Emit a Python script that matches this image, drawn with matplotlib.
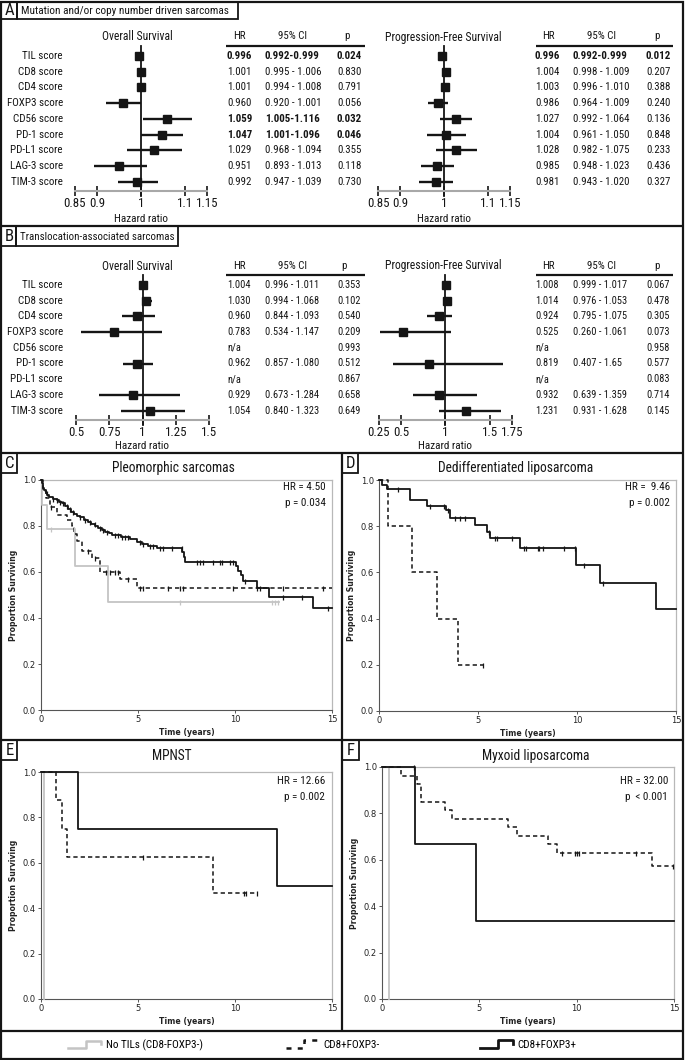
import numpy as np
import matplotlib
matplotlib.use('Agg')
import matplotlib.pyplot as plt
from matplotlib import font_manager as fm
from matplotlib.lines import Line2D
from matplotlib.patches import Rectangle
from matplotlib.legend_handler import HandlerLine2D


def has_font(name):
    try:
        fm.findfont(fm.FontProperties(family=name), fallback_to_default=False)
        return True
    except Exception:
        return False


FONT_CHOICES = [('Liberation Sans Narrow', 1.0), ('Roboto Condensed', 0.93),
                ('Lato', 0.88), ('Liberation Sans', 0.82)]
NARROW_NAME, SF = 'DejaVu Sans', 0.75
for _name, _sf in FONT_CHOICES:
    if has_font(_name):
        NARROW_NAME, SF = _name, _sf
        break
NARROW = [NARROW_NAME, 'DejaVu Sans']

# ---------------- data ----------------
markers = ['TIL score', 'CD8 score', 'CD4 score', 'FOXP3 score', 'CD56 score',
           'PD-1 score', 'PD-L1 score', 'LAG-3 score', 'TIM-3 score']

a_os_hr = ['0.996', '1.001', '1.001', '0.960', '1.059', '1.047', '1.029', '0.951', '0.992']
a_os_lo = ['0.992', '0.995', '0.994', '0.920', '1.005', '1.001', '0.968', '0.893', '0.947']
a_os_hi = ['0.999', '1.006', '1.008', '1.001', '1.116', '1.096', '1.094', '1.013', '1.039']
a_os_p = ['0.024', '0.830', '0.791', '0.056', '0.032', '0.046', '0.355', '0.118', '0.730']

a_pfs_hr = ['0.996', '1.004', '1.003', '0.986', '1.027', '1.004', '1.028', '0.985', '0.981']
a_pfs_lo = ['0.992', '0.998', '0.996', '0.964', '0.992', '0.961', '0.982', '0.948', '0.943']
a_pfs_hi = ['0.999', '1.009', '1.010', '1.009', '1.064', '1.050', '1.075', '1.023', '1.020']
a_pfs_p = ['0.012', '0.207', '0.388', '0.240', '0.136', '0.848', '0.233', '0.436', '0.327']

b_os_hr = ['1.004', '1.030', '0.960', '0.783', 'n/a', '0.962', 'n/a', '0.929', '1.054']
b_os_lo = ['0.996', '0.994', '0.844', '0.534', '', '0.857', '', '0.673', '0.840']
b_os_hi = ['1.011', '1.068', '1.093', '1.147', '', '1.080', '', '1.284', '1.323']
b_os_p = ['0.353', '0.102', '0.540', '0.209', '0.993', '0.512', '0.867', '0.658', '0.649']

b_pfs_hr = ['1.008', '1.014', '0.924', '0.525', 'n/a', '0.819', 'n/a', '0.932', '1.231']
b_pfs_lo = ['0.999', '0.976', '0.795', '0.260', '', '0.407', '', '0.639', '0.931']
b_pfs_hi = ['1.017', '1.053', '1.075', '1.061', '', '1.65', '', '1.359', '1.628']
b_pfs_p = ['0.067', '0.478', '0.305', '0.073', '0.958', '0.577', '0.083', '0.714', '0.145']

a_ticks = [0.85, 0.9, 1.0, 1.1, 1.15]
a_ticklabels = ['0.85', '0.9', '1', '1.1', '1.15']
b_os_ticks = [0.5, 0.75, 1.0, 1.25, 1.5]
b_os_ticklabels = ['0.5', '0.75', '1', '1.25', '1.5']
b_pfs_ticks = [0.25, 0.5, 1.0, 1.5, 1.75]
b_pfs_ticklabels = ['0.25', '0.5', '1', '1.5', '1.75']

# Kaplan-Meier curves (time in years, survival, censor times)
pleo_pos_t = [0, 0.04, 0.08, 0.12, 0.18, 0.25, 0.33, 0.43, 0.6, 0.8, 0.95, 1.1, 1.25, 1.4, 1.55,
              1.7, 1.85, 2.0, 2.2, 2.4, 2.6, 2.8, 2.96, 3.15, 3.3, 3.5, 3.64, 4.1, 4.59, 4.93,
              5.2, 5.53, 5.96, 7.28, 7.35, 7.42, 10.05, 10.15, 10.3, 10.43, 11.12, 11.77, 14.0, 15.0]
pleo_pos_s = [1.0, 0.985, 0.975, 0.965, 0.955, 0.945, 0.935, 0.925, 0.918, 0.912, 0.905, 0.898,
              0.885, 0.872, 0.862, 0.852, 0.845, 0.838, 0.828, 0.818, 0.808, 0.798, 0.79, 0.782,
              0.775, 0.768, 0.76, 0.752, 0.745, 0.73, 0.722, 0.715, 0.703, 0.685, 0.665, 0.645,
              0.625, 0.605, 0.585, 0.562, 0.529, 0.493, 0.442, 0.442]
pleo_pos_c = [0.29, 0.64, 0.81, 0.98, 1.15, 1.32, 1.5, 1.67, 2.01, 2.27, 2.53, 2.78, 3.04, 3.21,
              3.38, 3.81, 3.98, 4.16, 4.33, 4.5, 5.1, 5.27, 5.62, 5.79, 6.13, 6.3, 6.73, 7.25,
              8.02, 8.2, 8.37, 8.88, 9.23, 9.31, 9.74, 9.91, 10.5, 11.29, 12.49, 13.44, 14.81]
pleo_neg_t = [0, 0.12, 0.25, 0.46, 0.81, 1.32, 1.58, 1.70, 1.84, 2.1, 2.61, 3.04, 4.07, 4.97, 15.0]
pleo_neg_s = [1.0, 0.95, 0.92, 0.884, 0.848, 0.826, 0.80, 0.765, 0.735, 0.69, 0.66, 0.60, 0.568,
              0.529, 0.529]
pleo_neg_c = [0.5, 2.44, 2.78, 3.35, 3.56, 3.81, 3.98, 4.5, 5.1, 5.27, 6.56, 7.16, 7.3, 9.88,
              11.12, 12.49, 14.52]
pleo_none_t = [0, 0.03, 0.29, 1.75, 3.47, 12.25]
pleo_none_s = [1.0, 0.89, 0.787, 0.626, 0.468, 0.468]
pleo_none_c = [0.5, 1.72, 7.16, 11.89, 12.06, 12.22]

ddlps_pos_t = [0, 0.15, 0.39, 1.55, 2.41, 3.40, 3.59, 4.85, 5.44, 5.62, 7.12, 9.95, 11.16, 14.0, 15.0]
ddlps_pos_s = [1.0, 0.98, 0.96, 0.913, 0.887, 0.87, 0.834, 0.805, 0.776, 0.747, 0.704, 0.632,
               0.553, 0.442, 0.442]
ddlps_pos_c = [0.98, 2.58, 3.3, 3.51, 3.85, 4.1, 4.36, 5.54, 5.88, 5.97, 6.74, 7.3, 7.42, 8.01,
               8.1, 8.27, 9.33, 9.88, 10.36, 11.33]
ddlps_neg_t = [0, 0.47, 1.65, 2.91, 3.97, 5.23]
ddlps_neg_s = [1.0, 0.8, 0.6, 0.4, 0.2, 0.2]
ddlps_neg_c = [5.23]

mpnst_pos_t = [0, 1.89, 12.15, 15.0]
mpnst_pos_s = [1.0, 0.75, 0.5, 0.5]
mpnst_pos_c = []
mpnst_neg_t = [0, 0.77, 1.06, 1.35, 8.88, 11.15]
mpnst_neg_s = [1.0, 0.875, 0.75, 0.625, 0.468, 0.468]
mpnst_neg_c = [5.24, 10.48, 10.56, 11.15]
mpnst_none_t = [0, 0.13]
mpnst_none_s = [1.0, 0.0]
mpnst_none_c = []

mlps_pos_t = [0, 1.69, 4.83, 15.0]
mlps_pos_s = [1.0, 0.668, 0.335, 0.335]
mlps_pos_c = [1.64]
mlps_neg_t = [0, 0.96, 1.81, 2.0, 3.24, 3.61, 6.49, 6.93, 8.54, 8.99, 13.85, 15.0]
mlps_neg_s = [1.0, 0.963, 0.928, 0.85, 0.813, 0.777, 0.741, 0.704, 0.668, 0.63, 0.572, 0.572]
mlps_neg_c = [9.23, 9.92, 10.04, 10.14, 13.05, 14.95]
mlps_none_t = [0, 0.36]
mlps_none_s = [1.0, 0.0]
mlps_none_c = []

legend_labels = ['No TILs (CD8-FOXP3-)', 'CD8+FOXP3-', 'CD8+FOXP3+']

# ---------------- layout helpers ----------------
W, H = 685, 1060
fig = plt.figure(figsize=(W / 100, H / 100), dpi=100)
ov = fig.add_axes([0, 0, 1, 1])
ov.set_xlim(0, W)
ov.set_ylim(H, 0)
ov.axis('off')

INK = '#151515'
GREY = '#c4c4c4'


def rect(x0, y0, x1, y1):
    return [x0 / W, 1 - y1 / H, (x1 - x0) / W, (y1 - y0) / H]


def T(x, y, s, size, ha='left', va='center', weight='normal', family=None, **kw):
    ov.text(x, y, s, fontsize=size * (SF if family is None else 1), ha=ha, va=va,
            fontweight=weight, family=family or NARROW, color=INK, **kw)


# frames
ov.add_patch(Rectangle((1.5, 1.5), W - 3, H - 3, fill=False, lw=1.6, ec=INK))
ov.hlines([226, 453, 740, 1031], 1.5, W - 1.5, lw=1.6, color=INK)
ov.vlines(342, 453, 1031, lw=1.6, color=INK)


def labelbox(x0, y0, x1, y1, letter, text=None, x2=None, tsize=8.8):
    ov.add_patch(Rectangle((x0, y0), x1 - x0, y1 - y0, fill=False, lw=1.3, ec=INK))
    T((x0 + x1) / 2 + 0.5, (y0 + y1) / 2 + 0.5, letter, 13, ha='center')
    if text:
        ov.add_patch(Rectangle((x1, y0), x2 - x1, y1 - y0, fill=False, lw=1.3, ec=INK))
        T(x1 + 4, (y0 + y1) / 2 + 0.5, text, tsize)


labelbox(1.5, 1.5, 17, 19, 'A', 'Mutation and/or copy number driven sarcomas', 238, 8.75)
labelbox(1.5, 226, 16, 246, 'B', 'Translocation-associated sarcomas', 178, 8.4)
labelbox(1.5, 453, 17, 473, 'C')
labelbox(342, 453, 358, 473, 'D')
labelbox(1.5, 740, 17, 760, 'E')
labelbox(342, 740, 359, 760, 'F')

ROW = 15.7


def forest(x0, x1, first, xlim, ticks, ticklabels, hr, lo, hi):
    top, bottom = first - 10, first + 135
    ax = fig.add_axes(rect(x0, top, x1, bottom))
    ax.set_facecolor('none')
    ax.set_xlim(xlim)
    ax.set_ylim((bottom - first) / ROW, (top - first) / ROW)
    idx = [i for i, h in enumerate(hr) if h != 'n/a']
    ax.axvline(1.0, ymin=-0.035, ymax=1.0, color=INK, lw=1.3, clip_on=False, zorder=2)
    ax.hlines(idx, [float(lo[i]) for i in idx], [float(hi[i]) for i in idx],
              color=INK, lw=1.7, zorder=3)
    ax.plot([float(hr[i]) for i in idx], idx, 's', color=INK, ms=6.2, zorder=4)
    for s in ['left', 'top', 'right']:
        ax.spines[s].set_visible(False)
    ax.spines['bottom'].set_color('#a8a8a8')
    ax.spines['bottom'].set_linewidth(1.5)
    ax.set_yticks([])
    ax.set_xticks(ticks)
    ax.set_xticklabels(ticklabels, fontfamily=NARROW, fontsize=10 * SF, color=INK)
    ax.tick_params(axis='x', direction='inout', length=7, width=1.2, color=INK, pad=0.5)
    return ax


def table(xs, hx, y_head, y_line, xl, first, hr, lo, hi, p, size):
    T(hx[0], y_head, 'HR', 8.4, ha='center')
    T(hx[1], y_head, '95% CI', 8.4, ha='center')
    T(hx[2], y_head, 'p', 8.4, ha='center')
    ov.hlines(y_line, xl[0], xl[1], lw=1.6, color=INK)
    for i in range(len(hr)):
        bold = float(p[i]) < 0.05
        w = 'bold' if bold else 'normal'
        if lo[i] == '':
            ci = ''
        elif bold:
            ci = lo[i] + '-' + hi[i]
        else:
            ci = lo[i] + ' - ' + hi[i]
        y = first + i * ROW
        T(xs[0], y, hr[i], size, weight=w)
        T(xs[1], y, ci, size, weight=w)
        T(xs[2], y, p[i], size, weight=w)


def rowlabels(first):
    for i, m in enumerate(markers):
        T(63, first + i * ROW, m, 8.5, ha='right')


# Panel A
A_FIRST = 56
rowlabels(A_FIRST)
forest(75, 207, A_FIRST, (0.85, 1.15), a_ticks, a_ticklabels, a_os_hr, a_os_lo, a_os_hi)
forest(378, 510, A_FIRST, (0.85, 1.15), a_ticks, a_ticklabels, a_pfs_hr, a_pfs_lo, a_pfs_hi)
T(137, 37, 'Overall Survival', 9, ha='center')
T(443, 37, 'Progression-Free Survival', 9, ha='center')
T(141, 219, 'Hazard ratio', 8.6, ha='center')
T(444, 219, 'Hazard ratio', 8.6, ha='center')
table((227, 265, 337), (239, 293, 347), 36, 46, (226, 365), A_FIRST,
      a_os_hr, a_os_lo, a_os_hi, a_os_p, 8.4)
table((535, 573, 646), (548, 602, 657), 36, 46, (536, 673), A_FIRST,
      a_pfs_hr, a_pfs_lo, a_pfs_hi, a_pfs_p, 8.4)

# Panel B
B_FIRST = 285
rowlabels(B_FIRST)
forest(76, 209, B_FIRST, (0.5, 1.5), b_os_ticks, b_os_ticklabels, b_os_hr, b_os_lo, b_os_hi)
forest(379, 512, B_FIRST, (0.25, 1.75), b_pfs_ticks, b_pfs_ticklabels, b_pfs_hr, b_pfs_lo, b_pfs_hi)
T(137, 266, 'Overall Survival', 9, ha='center')
T(443, 266, 'Progression-Free Survival', 9, ha='center')
T(142, 446, 'Hazard ratio', 8.6, ha='center')
T(445, 446, 'Hazard ratio', 8.6, ha='center')
table((227, 265, 337), (239, 293, 344), 266, 275, (226, 365), B_FIRST,
      b_os_hr, b_os_lo, b_os_hi, b_os_p, 8.0)
table((535, 573, 646), (548, 602, 657), 266, 275, (536, 673), B_FIRST,
      b_pfs_hr, b_pfs_lo, b_pfs_hi, b_pfs_p, 8.0)

# ---------------- Kaplan-Meier panels ----------------
STYLES = {
    'none': dict(color=GREY, lw=1.3),
    'neg': dict(color=INK, lw=1.1, dashes=(2.8, 2.0)),
    'pos': dict(color=INK, lw=1.3),
}


def km(px, curves, title, tx, ty, hr, p, hx, hy):
    ax = fig.add_axes(rect(*px))
    ax.set_facecolor('none')
    for t, s, c, kind in curves:
        t = np.asarray(t, float)
        s = np.asarray(s, float)
        st = STYLES[kind]
        ax.step(t, s, where='post', clip_on=False, zorder=3, **st)
        if len(c):
            c = np.asarray(c, float)
            cs = s[np.searchsorted(t, c, side='right') - 1]
            ax.plot(c, cs, ls='none', marker='|', ms=3.6, mew=0.9, color=st['color'],
                    clip_on=False, zorder=4)
    ax.set_xlim(0, 15)
    ax.set_ylim(0, 1)
    for s in ['left', 'bottom']:
        ax.spines[s].set_color('#555555')
        ax.spines[s].set_linewidth(0.8)
    for s in ['top', 'right']:
        ax.spines[s].set_color('#b8b8b8')
        ax.spines[s].set_linewidth(0.9)
    yt = np.arange(0, 1.01, 0.2)
    ax.set_yticks(yt)
    ax.set_yticklabels(['%.1f' % v for v in yt])
    ax.set_xticks([0, 5, 10, 15])
    ax.tick_params(direction='out', length=2.5, width=0.7, color='#555555',
                   labelsize=6, pad=1.2, labelcolor='#222222')
    ax.set_xlabel('Time (years)', fontsize=5.6, fontweight='bold', labelpad=2.5, color='#222222')
    ax.set_ylabel('Proportion Surviving', fontsize=5.6, fontweight='bold', labelpad=3,
                  color='#222222')
    T(tx, ty, title, 10.5, ha='center')
    T(hx, hy, hr, 8.6, ha='right')
    T(hx, hy + 16, p, 8.6, ha='right')
    return ax


km((41, 480, 332, 710),
   [(pleo_none_t, pleo_none_s, pleo_none_c, 'none'),
    (pleo_neg_t, pleo_neg_s, pleo_neg_c, 'neg'),
    (pleo_pos_t, pleo_pos_s, pleo_pos_c, 'pos')],
   'Pleomorphic sarcomas', 173, 468, 'HR = 4.50', 'p = 0.034', 326, 487)

km((379, 480, 676, 711),
   [(ddlps_neg_t, ddlps_neg_s, ddlps_neg_c, 'neg'),
    (ddlps_pos_t, ddlps_pos_s, ddlps_pos_c, 'pos')],
   'Dedifferentiated liposarcoma', 516, 468, 'HR =  9.46', 'p = 0.002', 670, 487)

km((41, 772, 332, 999),
   [(mpnst_none_t, mpnst_none_s, mpnst_none_c, 'none'),
    (mpnst_neg_t, mpnst_neg_s, mpnst_neg_c, 'neg'),
    (mpnst_pos_t, mpnst_pos_s, mpnst_pos_c, 'pos')],
   'MPNST', 172, 756, 'HR = 12.66', 'p = 0.002', 325, 781)

km((382, 767, 674, 999),
   [(mlps_none_t, mlps_none_s, mlps_none_c, 'none'),
    (mlps_neg_t, mlps_neg_s, mlps_neg_c, 'neg'),
    (mlps_pos_t, mlps_pos_s, mlps_pos_c, 'pos')],
   'Myxoid liposarcoma', 536, 756, 'HR = 32.00', 'p  < 0.001', 668, 781)


# ---------------- legend ----------------
class StepHandler(HandlerLine2D):
    def create_artists(self, legend, orig_handle, xdescent, ydescent, width, height,
                       fontsize, trans):
        fx = np.array([0.0, 0.55, 0.55, 1.0, 1.0])
        fy = np.array([0.1, 0.1, 0.95, 0.95, 0.55])
        line = Line2D(fx * width - xdescent, fy * height - ydescent)
        self.update_prop(line, orig_handle, legend)
        line.set_transform(trans)
        return [line]


handles = [Line2D([], [], color=GREY, lw=1.8),
           Line2D([], [], color=INK, lw=1.8, dashes=(2.0, 2.5)),
           Line2D([], [], color=INK, lw=2.0)]
leg_x = [68, 286, 480]
for h, lab, lx in zip(handles, legend_labels, leg_x):
    fig.legend([h], [lab], loc='center left', bbox_to_anchor=(lx / W, 1 - 1045 / H),
               frameon=False, borderpad=0, borderaxespad=0, handlelength=3.0,
               handleheight=0.8, handletextpad=0.4,
               handler_map={Line2D: StepHandler()},
               prop=fm.FontProperties(family=NARROW, size=8.6 * SF))

fig.savefig('out.png', dpi=100)
